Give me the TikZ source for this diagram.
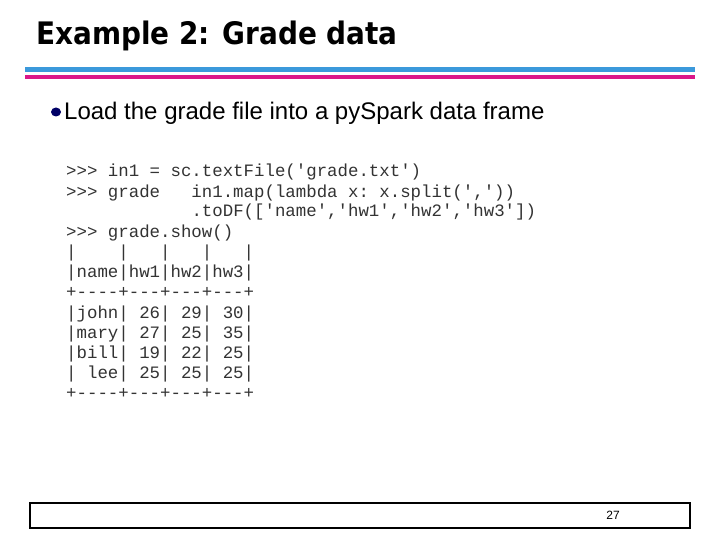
\documentclass[tikz,border=0pt]{standalone}
\usepackage{fontspec}
\setmainfont{Liberation Sans}
\setmonofont{Liberation Mono}
\begin{document}
\begin{tikzpicture}[x=1pt,y=-1pt,
  code/.style={anchor=base west,inner sep=0pt,font=\fontsize{17.4}{20}\ttfamily,text=black!80}]
\useasboundingbox (0,0) rectangle (720,540);
\fill[white] (0,0) rectangle (720,540);
\node[anchor=base west,inner sep=0pt,font=\fontsize{31}{34}\fontspec{DejaVu Sans Condensed Bold}] (title) at (36,45) {Example 2: Grade data};
\fill[cyan!70!blue!80] (25,67) rectangle (695,72);
\fill[magenta!80!violet] (25,75) rectangle (695,79);
\fill[blue!40!black] (56,112) ellipse (5 and 4.5) coordinate (dot);
\node[anchor=base west,inner sep=0pt,font=\fontsize{24}{28}\selectfont] (bul) at (64,120) {Load the grade file into a pySpark data frame};
\node[code] (l1) at (66,177) {>{}>{}> in1 = sc.textFile('grade.txt')};
\node[code] (l2) at (66,197) {>{}>{}> grade\ \ \ in1.map(lambda x: x.split(','))};
\node[code] (l3) at (66,217) {\ \ \ \ \ \ \ \ \ \ \ \ .toDF(['name','hw1','hw2','hw3'])};
\node[code] (l4) at (66,237) {>{}>{}> grade.show()};
\node[code] (l5) at (66,257) {|\ \ \ \ |\ \ \ |\ \ \ |\ \ \ |};
\node[code] (l6) at (66,277) {|name|hw1|hw2|hw3|};
\node[code] (l7) at (66,297) {+----+---+---+---+};
\node[code] (l8) at (66,318) {|john|\ 26|\ 29|\ 30|};
\node[code] (l9) at (66,338) {|mary|\ 27|\ 25|\ 35|};
\node[code] (l10) at (66,358) {|bill|\ 19|\ 22|\ 25|};
\node[code] (l11) at (66,378) {|\ lee|\ 25|\ 25|\ 25|};
\node[code] (l12) at (66,398) {+----+---+---+---+};
\draw[line width=1.2pt] (30,503) rectangle (690,528);
\node[font=\fontsize{12}{14}\selectfont,inner sep=0pt] (pg) at (613,515) {27};
\end{tikzpicture}
\end{document}
